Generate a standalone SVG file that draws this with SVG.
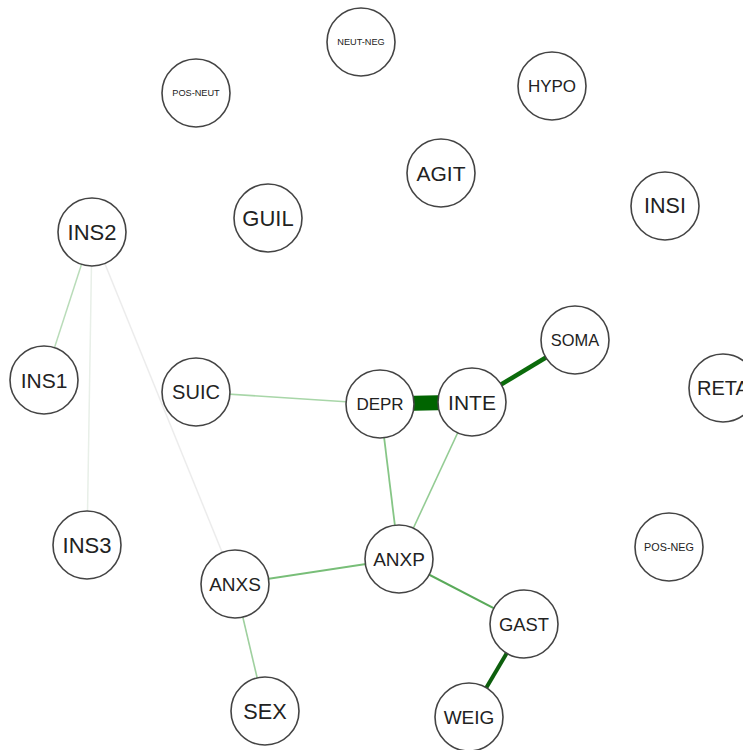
<svg xmlns="http://www.w3.org/2000/svg" width="743" height="750" viewBox="0 0 743 750">
<style>
.n circle{fill:#fff;stroke:#444;stroke-width:1.6}
.n text{font-family:"Liberation Sans",Arial,sans-serif;fill:#222;text-anchor:middle;dominant-baseline:central}
.e line{stroke-linecap:butt;fill:none}
</style>
<rect width="743" height="750" fill="#fff"/>
<g id="edges" class="e">
<line x1="92" y1="232" x2="44" y2="380" stroke="#b9dcb9" stroke-width="1.5"/>
<line x1="92" y1="232" x2="87" y2="545" stroke="#e8efe8" stroke-width="1.5"/>
<line x1="92" y1="232" x2="235" y2="584" stroke="#ececec" stroke-width="1.5"/>
<line x1="196" y1="392" x2="380" y2="404" stroke="#a8d6a8" stroke-width="1.6"/>
<line x1="380" y1="404" x2="472" y2="402" stroke="#006400" stroke-width="15"/>
<line x1="472" y1="402" x2="575" y2="340" stroke="#0b6b0b" stroke-width="4.5"/>
<line x1="380" y1="404" x2="399" y2="559" stroke="#86c686" stroke-width="1.8"/>
<line x1="472" y1="402" x2="399" y2="559" stroke="#94cc94" stroke-width="1.6"/>
<line x1="399" y1="559" x2="235" y2="584" stroke="#78be78" stroke-width="2"/>
<line x1="235" y1="584" x2="265" y2="711" stroke="#9fd09f" stroke-width="1.6"/>
<line x1="399" y1="559" x2="524" y2="624" stroke="#5aaa5a" stroke-width="2"/>
<line x1="524" y1="624" x2="469" y2="717" stroke="#0d5f0d" stroke-width="4"/>
</g>
<g id="NEUT-NEG" class="n"><circle cx="361" cy="42" r="34"/><text x="361" y="42" font-size="9.2">NEUT-NEG</text></g>
<g id="POS-NEUT" class="n"><circle cx="196" cy="93" r="34"/><text x="196" y="93" font-size="9.2">POS-NEUT</text></g>
<g id="HYPO" class="n"><circle cx="552" cy="86" r="34"/><text x="552" y="86" font-size="17">HYPO</text></g>
<g id="AGIT" class="n"><circle cx="441" cy="173" r="34"/><text x="441" y="173" font-size="21">AGIT</text></g>
<g id="GUIL" class="n"><circle cx="268" cy="218" r="34"/><text x="268" y="218" font-size="22">GUIL</text></g>
<g id="INSI" class="n"><circle cx="665" cy="206" r="34"/><text x="665" y="206" font-size="21.5">INSI</text></g>
<g id="INS2" class="n"><circle cx="92" cy="232" r="34"/><text x="92" y="232" font-size="22">INS2</text></g>
<g id="SOMA" class="n"><circle cx="575" cy="340" r="34"/><text x="575" y="340" font-size="16.4">SOMA</text></g>
<g id="INS1" class="n"><circle cx="44" cy="380" r="34"/><text x="44" y="380" font-size="21">INS1</text></g>
<g id="SUIC" class="n"><circle cx="196" cy="392" r="34"/><text x="196" y="392" font-size="20">SUIC</text></g>
<g id="DEPR" class="n"><circle cx="380" cy="404" r="34"/><text x="380" y="404" font-size="17">DEPR</text></g>
<g id="INTE" class="n"><circle cx="472" cy="402" r="34"/><text x="472" y="402" font-size="21">INTE</text></g>
<g id="RETA" class="n"><circle cx="723" cy="388" r="34"/><text x="723" y="388" font-size="20">RETA</text></g>
<g id="INS3" class="n"><circle cx="87" cy="545" r="34"/><text x="87" y="545" font-size="22">INS3</text></g>
<g id="POS-NEG" class="n"><circle cx="669" cy="547" r="34"/><text x="669" y="547" font-size="10.8">POS-NEG</text></g>
<g id="ANXP" class="n"><circle cx="399" cy="559" r="34"/><text x="399" y="559" font-size="19">ANXP</text></g>
<g id="ANXS" class="n"><circle cx="235" cy="584" r="34"/><text x="235" y="584" font-size="19">ANXS</text></g>
<g id="GAST" class="n"><circle cx="524" cy="624" r="34"/><text x="524" y="624" font-size="18.4">GAST</text></g>
<g id="SEX" class="n"><circle cx="265" cy="711" r="34"/><text x="265" y="711" font-size="21.7">SEX</text></g>
<g id="WEIG" class="n"><circle cx="469" cy="717" r="34"/><text x="469" y="717" font-size="19">WEIG</text></g>
</svg>
